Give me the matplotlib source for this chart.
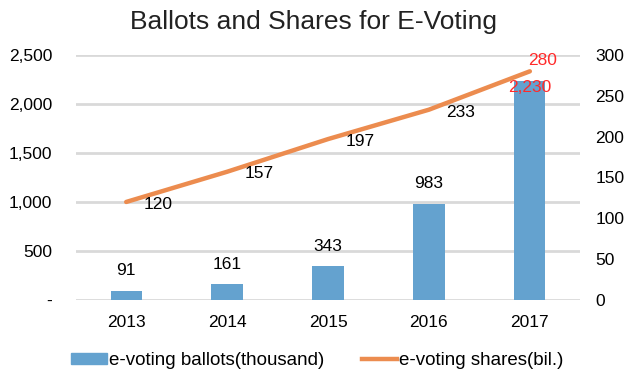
import numpy as np
import matplotlib.pyplot as plt
from matplotlib.lines import Line2D
from matplotlib.patches import Patch

years = ['2013', '2014', '2015', '2016', '2017']
ballots = [91, 161, 343, 983, 2230]      # thousand
shares = [120, 157, 197, 233, 280]       # bil.

bar_color = '#64a2cf'
line_color = '#ec8c4f'
grid_color = '#d9d9d9'
red = '#ff2a2a'
fs = 12.5

plt.rcParams['font.family'] = ['Liberation Sans', 'DejaVu Sans']

fig = plt.figure(figsize=(6.26, 3.74), dpi=100)
ax = fig.add_axes([0.121, 0.198, 0.806, 0.655])
ax2 = ax.twinx()

x = np.arange(len(years))
ax.bar(x, ballots, width=0.31, color=bar_color, zorder=2)
ax2.plot(x, shares, color=line_color, lw=3.2, solid_capstyle='round', zorder=3)

ax.set_xlim(-0.5, 4.5)
ax.set_ylim(0, 2500)
ax2.set_ylim(0, 300)
ax.set_yticks(np.arange(0, 2501, 500))
ax.set_yticklabels(['-'] + ['{:,}'.format(v) for v in range(500, 2501, 500)])
ax2.set_yticks(np.arange(0, 301, 50))
ax.set_xticks(x)
ax.set_xticklabels(years)

for a in (ax, ax2):
    for s in a.spines.values():
        s.set_visible(False)
    a.tick_params(length=0, labelsize=fs)
ax.tick_params(axis='x', pad=11)
ax.tick_params(axis='y', pad=17)
ax2.tick_params(axis='y', pad=11)
ax.yaxis.grid(True, color=grid_color, lw=2)
ax.set_axisbelow(True)

# bar value labels (last one in red, just inside the bar top)
for i, v in enumerate(ballots):
    if i == len(ballots) - 1:
        ax.annotate('{:,}'.format(v), (i, v), xytext=(0, -4.5), textcoords='offset points',
                    ha='center', va='center', fontsize=fs, color=red)
    else:
        ax.annotate('{:,}'.format(v), (i, v), xytext=(0, 14.5), textcoords='offset points',
                    ha='center', va='center', fontsize=fs)

# line value labels
offsets = [(23, -1.5), (23, -1), (23, -2), (23, -2), (9, 7.5)]
for i, v in enumerate(shares):
    col = red if i == len(shares) - 1 else 'black'
    ax2.annotate(str(v), (i, v), xytext=offsets[i], textcoords='offset points',
                 ha='center', va='center', fontsize=fs, color=col)

fig.suptitle('Ballots and Shares for E-Voting', y=0.972, fontsize=19, color='#222222')

handles = [Patch(color=bar_color), Line2D([], [], color=line_color, lw=3.2)]
fig.legend(handles, ['e-voting ballots(thousand)', 'e-voting shares(bil.)'],
           loc='center', bbox_to_anchor=(0.507, 0.035), ncol=2, frameon=False,
           fontsize=13.5, handlelength=1.9, handleheight=0.55, handletextpad=0.1,
           columnspacing=2.0)

fig.savefig('out.png', dpi=100)
